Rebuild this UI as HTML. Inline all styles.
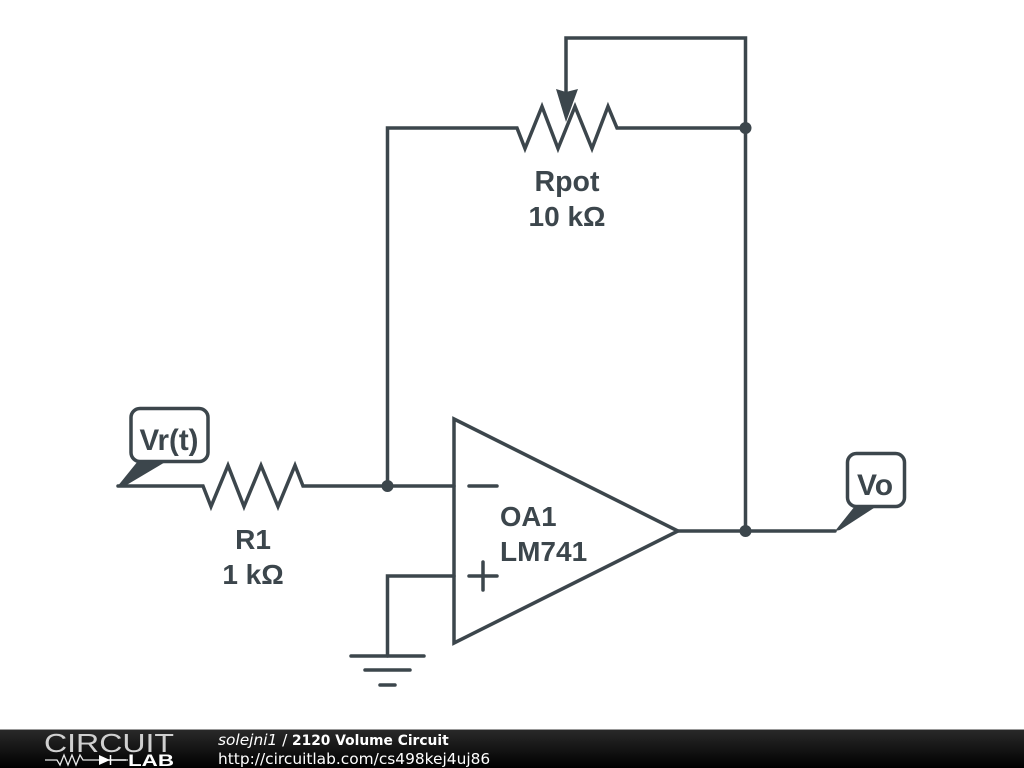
<!DOCTYPE html>
<html>
<head>
<meta charset="utf-8">
<style>
html,body{margin:0;padding:0;background:#fff;width:1024px;height:768px;overflow:hidden}
svg{display:block}
</style>
</head>
<body>
<svg width="1024" height="768" viewBox="0 0 1024 768" xmlns="http://www.w3.org/2000/svg">
<defs>
<linearGradient id="bar" x1="0" y1="0" x2="0" y2="1">
<stop offset="0" stop-color="#2a2a2a"/>
<stop offset="1" stop-color="#000"/>
</linearGradient>
</defs>
<rect width="1024" height="768" fill="#fff"/>
<g fill="none" stroke="#3c464c" stroke-width="3.5" stroke-linejoin="miter" stroke-linecap="round">
<path d="M387.500 486V128H517L525 148.500L542 106.500L558 148.500L575 106.500L592 148.500L608 106.500L617 128H745.500"/>
<path d="M566 95V38H745.500V531"/>
<path d="M118 486H203L211 506.500L228 465.500L244 506.500L261 465.500L278 506.500L295 465.500L303 486H454"/>
<path d="M454 419L678 531L454 643Z"/>
<path d="M678 531H835"/>
<path d="M454 576H387.500V656"/>
<path d="M351 656H424M365 670H410M380 685H395"/>
<path d="M469 486H497M469 576H497M483 562V590"/>
<rect x="131" y="408.500" width="77" height="53" rx="9" fill="#fff"/>
<rect x="847.500" y="453.500" width="57" height="53" rx="9" fill="#fff"/>
</g>
<g fill="#3c464c">
<circle cx="387.500" cy="486" r="6"/>
<circle cx="745.500" cy="128" r="6"/>
<circle cx="745.500" cy="531" r="6"/>
<path d="M556 89L566 92L578 89L566 122Z"/>
<path d="M117 487L138 461H167L125 486Z"/>
<path d="M835 531L855 506H877L840 530Z"/>
</g>
<g fill="#3c464c" font-family="'Liberation Sans',sans-serif" font-weight="700" font-size="28" text-anchor="middle">
<text x="567" y="191" font-size="28.500">Rpot</text>
<text x="567" y="226">10 kΩ</text>
<text x="253" y="549">R1</text>
<text x="253" y="584">1 kΩ</text>
<text x="169" y="450" font-size="29.500">Vr(t)</text>
<text x="875" y="495" font-size="30">Vo</text>
<text x="500" y="526" text-anchor="start" font-size="27.500">OA1</text>
<text x="500" y="561" text-anchor="start">LM741</text>
</g>
<rect x="0" y="729" width="1024" height="39" fill="url(#bar)"/>
<rect x="0" y="729" width="1024" height="1" fill="#999"/>
<text x="44" y="752" font-family="'Liberation Sans',sans-serif" font-size="26" fill="#d0d0d0" textLength="130" lengthAdjust="spacingAndGlyphs">CIRCUIT</text>
<path d="M45 760H57L60 765L64 755L68 765L72 755L76 765L80 755L83 760H99M126 760H128" fill="none" stroke="#e8e8e8" stroke-width="1.300"/>
<path d="M99 755L110 760L99 765Z" fill="#fff"/>
<path d="M99 760H126M110.500 755V765" fill="none" stroke="#fff" stroke-width="1.500"/>
<text x="128" y="766" font-family="'Liberation Sans',sans-serif" font-weight="700" font-size="17" fill="#fff" textLength="46" lengthAdjust="spacingAndGlyphs">LAB</text>
<text x="218" y="745" font-family="'DejaVu Sans',sans-serif" font-size="15.400" fill="#fff"><tspan font-style="italic">solejni1</tspan> / <tspan x="292" font-size="13.800" font-weight="700">2120 Volume Circuit</tspan></text>
<text x="218" y="764" font-family="'DejaVu Sans',sans-serif" font-size="15.400" fill="#fff">http://circuitlab.com/cs498kej4uj86</text>
</svg>
</body>
</html>
